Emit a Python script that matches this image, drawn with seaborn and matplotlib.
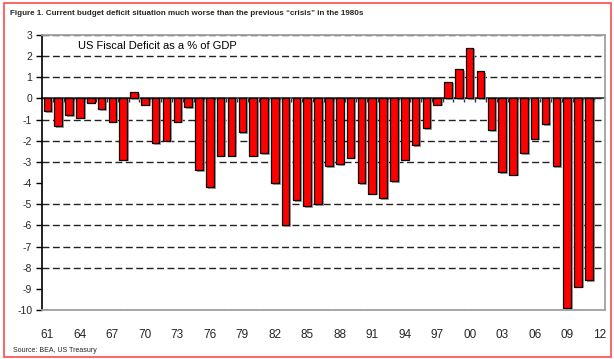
import numpy as np
import pandas as pd
import matplotlib
matplotlib.use("Agg")
import matplotlib.pyplot as plt
import matplotlib.patheffects as pe
from matplotlib.patches import Rectangle
import seaborn as sns

# US fiscal deficit as % of GDP, 1961-2012 (2012 left empty)
years = list(range(1961, 2013))
deficit = [-0.6, -1.3, -0.8, -0.9, -0.2, -0.5, -1.1, -2.9, 0.3, -0.3,
           -2.1, -2.0, -1.1, -0.4, -3.4, -4.2, -2.7, -2.7, -1.6, -2.7,
           -2.6, -4.0, -6.0, -4.8, -5.1, -5.0, -3.2, -3.1, -2.8, -4.0,
           -4.5, -4.7, -3.9, -2.9, -2.2, -1.4, -0.3, 0.8, 1.4, 2.4,
           1.3, -1.5, -3.5, -3.6, -2.6, -1.9, -1.2, -3.2, -9.9, -8.9,
           -8.6, np.nan]
year_labels = [f"{y % 100:02d}" for y in years]

df = pd.DataFrame({"year": year_labels, "deficit": deficit})

sns.set_style("white")
plt.rcParams["font.family"] = ["Liberation Sans", "DejaVu Sans"]
plt.rcParams["axes.unicode_minus"] = False

fig = plt.figure(figsize=(6.14, 3.59), dpi=100)
ax = fig.add_axes([0.0684, 0.1365, 0.917, 0.766])

sns.barplot(data=df, x="year", y="deficit", order=year_labels, color="#ff0000",
            saturation=1, edgecolor="black", linewidth=0.9, width=0.7, ax=ax)
for bar in ax.patches:
    bar.set_path_effects([pe.SimplePatchShadow(offset=(1.4, -1.2), shadow_rgbFace="#9a9a9a", alpha=0.9),
                          pe.Normal()])

ax.set_xlim(-0.5, len(years) - 0.5)
ax.set_ylim(-10, 3)
ax.set_yticks(range(-10, 4))
ax.set_xticks(range(0, len(years), 3))
ax.set_xticklabels(year_labels[::3])
ax.set_xlabel("")
ax.set_ylabel("")

ax.set_axisbelow(True)
ax.yaxis.grid(True, color="#222222", linestyle=(0, (5, 2.5)), linewidth=1.0)
for t in ax.yaxis.get_major_ticks():
    if t.get_loc() in (3, -10, 0):
        t.gridline.set_visible(False)

ax.tick_params(axis="y", left=True, direction="out", length=4, width=1, color="black",
               labelsize=7.5, pad=3)
ax.tick_params(axis="x", bottom=False, labelsize=8.5, pad=10)

for side in ["top", "right", "bottom"]:
    ax.spines[side].set_color("#a0a0a0")
    ax.spines[side].set_linewidth(1.3)
ax.spines["left"].set_color("black")
ax.spines["left"].set_linewidth(1.2)

# zero line with small ticks between the years
sec = ax.secondary_xaxis(10 / 13)
sec.set_xticks([i + 0.5 for i in range(len(years) - 1)])
sec.tick_params(direction="in", length=3, width=1, color="#333333", labeltop=False, labelbottom=False)
sec.spines["top"].set_color("#444444")
sec.spines["top"].set_linewidth(1.3)
sec.spines["bottom"].set_color("#444444")
sec.spines["bottom"].set_linewidth(1.3)

ax.text(0.064, 0.961, "US Fiscal Deficit as a % of GDP", transform=ax.transAxes,
        fontsize=8, va="center", ha="left", color="black")

fig.text(0.017, 0.962, "Figure 1. Current budget deficit situation much worse than the previous \u201ccrisis\u201d in the 1980s",
         fontsize=5.8, fontweight="bold", va="center", ha="left",
         family=["Liberation Sans Narrow", "Liberation Sans", "DejaVu Sans"])
fig.text(0.021, 0.024, "Source: BEA, US Treasury", fontsize=5.0, va="center", ha="left",
         family=["Liberation Sans Narrow", "Liberation Sans", "DejaVu Sans"])

fig.patches.append(Rectangle((0.0065, 0.0056), 0.9886, 0.986, transform=fig.transFigure,
                             fill=False, edgecolor="#ff4a4a", linewidth=1.2))

fig.savefig("out.png", dpi=100)
